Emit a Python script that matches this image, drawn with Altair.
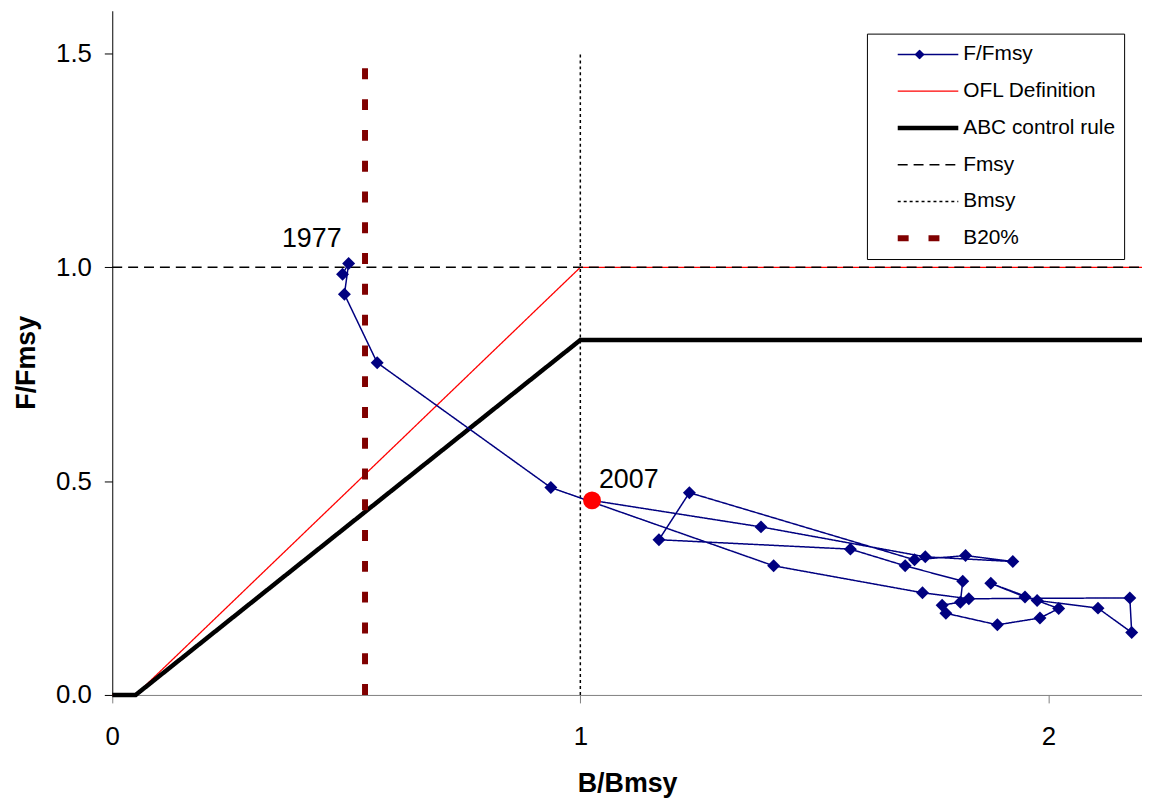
import altair as alt
import pandas as pd

# ---- data ----
years = list(range(1977, 2008))
b_bmsy = [0.492, 0.505, 0.496, 0.566, 0.937, 1.413, 1.731, 1.830, 2.174, 2.178,
          2.106, 1.976, 1.950, 1.877, 2.022, 1.982, 1.891, 1.781, 1.773, 1.812,
          1.817, 1.694, 1.577, 1.168, 1.233, 1.714, 1.823, 1.924, 1.737, 1.386, 1.025]
f_fmsy = [0.984, 1.009, 0.937, 0.777, 0.485, 0.302, 0.239, 0.225, 0.227, 0.146,
          0.203, 0.221, 0.229, 0.261, 0.202, 0.180, 0.164, 0.191, 0.210, 0.217,
          0.266, 0.302, 0.341, 0.363, 0.473, 0.316, 0.326, 0.312, 0.323, 0.393, 0.455]

ofl_x = [0.0, 0.05, 1.0, 2.2]
ofl_y = [0.0, 0.0, 1.0, 1.0]
abc_x = [0.0, 0.05, 1.0, 2.2]
abc_y = [0.0, 0.0, 0.83, 0.83]
fmsy_x = [0.0, 2.2]
fmsy_y = [1.0, 1.0]
bmsy_x = [1.0, 1.0]
bmsy_y = [0.0, 1.5]
b20_x = [0.54, 0.54]
b20_y = [0.0, 1.5]

x_ticks = [0, 1, 2]
y_ticks = [0.0, 0.5, 1.0, 1.5]

series_names = ["F/Fmsy", "OFL Definition", "ABC control rule", "Fmsy", "Bmsy", "B20%"]
series_colors = ["#000080", "#ff0000", "#000000", "#000000", "#000000", "#800000"]
series_dashes = [[1, 0], [1, 0], [1, 0], [10, 6], [3, 3], [11, 20]]
series_widths = [1.5, 1.3, 4.5, 1.5, 1.5, 6]

FONT = "Liberation Sans"


def ref_df(name, xs, ys):
    return pd.DataFrame({"series": name, "step": list(range(len(xs))), "x": xs, "y": ys})


traj = pd.DataFrame({"series": "F/Fmsy", "step": list(range(len(years))),
                     "year": [str(y) for y in years], "x": b_bmsy, "y": f_fmsy})

x_axis = alt.Axis(values=x_ticks, format="d", title="B/Bmsy", grid=False, labelFlush=False,
                  labelFont=FONT, labelFontSize=26, labelColor="black", labelPadding=21,
                  tickSize=8, tickColor="#808080", domainColor="#808080",
                  titleFont=FONT, titleFontSize=27, titleFontWeight="bold", titleColor="black",
                  titleY=97, titleBaseline="alphabetic")
y_axis = alt.Axis(values=y_ticks, format=".1f", title="F/Fmsy", grid=False, labelFlush=False,
                  labelFont=FONT, labelFontSize=26, labelColor="black", labelPadding=13,
                  tickSize=8, tickColor="black", domainColor="black",
                  titleFont=FONT, titleFontSize=27, titleFontWeight="bold", titleColor="black",
                  titleX=-78, titleY=354, titleAngle=270, titleAlign="center",
                  titleBaseline="alphabetic")

X = alt.X("x:Q", scale=alt.Scale(domain=[0, 2.2], nice=False, zero=False), axis=x_axis)
Y = alt.Y("y:Q", scale=alt.Scale(domain=[0, 1.6], nice=False, zero=False), axis=y_axis)

legend = alt.Legend(orient="none", legendX=760, legendY=23,
                    title="\u00a0\u00a0\u00a0\u00a0", titleOrient="right",
                    titleFont=FONT, titleFontSize=21, titlePadding=0,
                    labelFont=FONT, labelFontSize=21, labelColor="black",
                    symbolType="stroke", symbolSize=3721, symbolOffset=19, labelOffset=2,
                    clipHeight=24, padding=9, rowPadding=13,
                    strokeColor="black", labelLimit=400)

C = alt.Color("series:N", scale=alt.Scale(domain=series_names, range=series_colors), legend=legend)
D = alt.StrokeDash("series:N", scale=alt.Scale(domain=series_names, range=series_dashes), legend=legend)
W = alt.StrokeWidth("series:N", scale=alt.Scale(type="ordinal", domain=series_names, range=series_widths),
                    legend=legend)

marker_legend = alt.Legend(orient="none", legendX=808, legendY=39, title=None,
                           labelExpr="''", labelFontSize=1, labelOffset=0,
                           symbolSize=100, symbolStrokeWidth=0, symbolOffset=0,
                           symbolFillColor="#000080", symbolOpacity=1,
                           clipHeight=10, padding=0)
S = alt.Shape("series:N", scale=alt.Scale(domain=["F/Fmsy"], range=["diamond"]), legend=marker_legend)


def line_layer(df):
    return alt.Chart(df).mark_line(strokeCap="butt").encode(
        x=X, y=Y, color=C, strokeDash=D, strokeWidth=W, order=alt.Order("step:Q"))


layers = [
    line_layer(ref_df("OFL Definition", ofl_x, ofl_y)),
    line_layer(ref_df("ABC control rule", abc_x, abc_y)),
    line_layer(ref_df("Bmsy", bmsy_x, bmsy_y)),
    line_layer(ref_df("B20%", b20_x, b20_y)),
    line_layer(ref_df("Fmsy", fmsy_x, fmsy_y)),
    line_layer(traj),
    alt.Chart(traj).mark_point(filled=True, size=170, color="#000080",
                               opacity=1).encode(x=X, y=Y, shape=S),
    alt.Chart(traj[traj["year"] == "2007"]).mark_point(shape="circle", filled=True, size=324,
                                                       color="#ff0000", opacity=1).encode(x=X, y=Y),
    alt.Chart(traj[traj["year"] == "1977"]).mark_text(font=FONT, fontSize=27, color="black",
                                                      dx=-31, dy=-35).encode(x=X, y=Y, text="year:N"),
    alt.Chart(traj[traj["year"] == "2007"]).mark_text(font=FONT, fontSize=27, color="black",
                                                      dx=37, dy=-20).encode(x=X, y=Y, text="year:N"),
]

chart = alt.layer(*layers).properties(
    width=1037, height=689,
    padding={"left": 105, "top": 0, "right": 0, "bottom": 104},
    autosize=alt.AutoSizeParams(type="none"),
).configure_view(stroke=None).configure_axis(grid=False)

chart.save("out.html", embed_options={"renderer": "svg", "actions": False})
